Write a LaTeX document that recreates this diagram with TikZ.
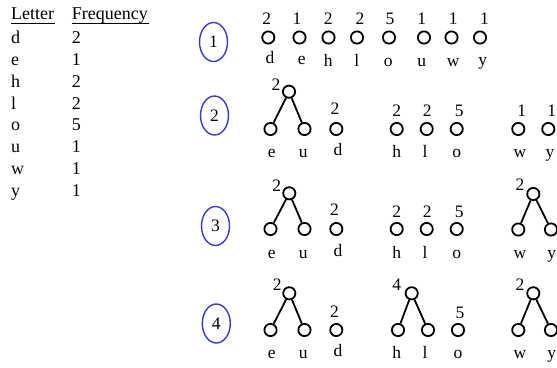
\documentclass[tikz,border=0pt]{standalone}
\usepackage{fontspec}
\setmainfont{Liberation Serif}
\usetikzlibrary{shapes.geometric}
\definecolor{stepblue}{HTML}{3A3AC8}
\begin{document}
\begin{tikzpicture}[x=1pt,y=-1pt,
  leaf/.style={circle, draw, line width=1.8pt, minimum size=12.2pt, inner sep=0pt},
  txt/.style={anchor=base, inner sep=0pt, font=\fontsize{17.5}{17.5}\selectfont},
  tab/.style={anchor=base west, inner sep=0pt, font=\fontsize{18}{18}\selectfont},
  stepmark/.style={ellipse, draw=stepblue, line width=1.4pt, minimum width=28pt,
    minimum height=39pt, inner sep=0pt, font=\fontsize{17.5}{17.5}\selectfont},
  edge/.style={line width=1.8pt}]
\useasboundingbox (0,0) rectangle (557,367);

% frequency table
\node[tab] (hL) at (11,19.5) {Letter};
\node[tab] (hF) at (71.7,19.5) {Frequency};
\draw[line width=0.8pt] (hL.base west) ++(0,3.8) -- ++(44,0);
\draw[line width=0.8pt] (hF.base west) ++(0,3.8) -- ++(77.6,0);
\foreach \c/\f [count=\i from 0] in {d/2,e/1,h/2,l/2,o/5,u/1,w/1,y/1}{
  \node[tab] (tl\c) at (11,43.3+21.9*\i) {\c};
  \node[tab] (tf\c) at (71.7,43.3+21.9*\i) {\f};
}

% step markers
\node[stepmark] (s1) at (213.5,42) {1};
\node[stepmark] (s2) at (214.5,115.5) {2};
\node[stepmark] (s3) at (215.5,226) {3};
\node[stepmark] (s4) at (216.3,323.5) {4};

% step 1: single-node trees
\foreach \c/\x/\wx/\f/\lx/\ly in {d/268.3/266.7/2/270/63,e/299.5/297/1/301.7/64.5,
    h/328.5/328.3/2/328.3/66,l/357/360/2/356.7/66,o/389/390/5/388.3/66,
    u/424/421.7/1/421.7/66,w/451.5/453.3/1/453.3/66,y/480/484.5/1/482.7/65.5}{
  \node[leaf] (a\c) at (\x,37.5) {};
  \node[txt] (aw\c) at (\wx,24.5) {\f};
  \node[txt] (al\c) at (\lx,\ly) {\c};
}

% step 2
\node[leaf] (b1) at (289,91.7) {};
\node[txt] (bw1) at (276,90) {2};
\node[leaf] (be) at (270.5,129) {};
\node[leaf] (bu) at (304.5,129) {};
\draw[edge] (b1) -- (be);
\draw[edge] (b1) -- (bu);
\node[leaf] (bd) at (336.3,129) {};
\node[txt] (bwd) at (335,114.5) {2};
\foreach \c/\x/\wx/\f in {h/396.7/396.7/2,l/426.7/427.3/2,o/456.7/459.3/5,
    w/518.3/521.7/1,y/548.3/551.7/1}{
  \node[leaf] (b\c) at (\x,129) {};
  \node[txt] (bw\c) at (\wx,116) {\f};
}
\foreach \c/\x in {e/271.7,u/303.3,h/396.7,l/425,o/456.7,w/520,y/550}{
  \node[txt] (bl\c) at (\x,157.5) {\c};
}
\node[txt] (bld) at (338,155.5) {d};

% step 3
\node[leaf] (c1) at (289.3,193.3) {};
\node[txt] (cw1) at (276.7,191.5) {2};
\node[leaf] (ce) at (270.5,229) {};
\node[leaf] (cu) at (304.5,229) {};
\draw[edge] (c1) -- (ce);
\draw[edge] (c1) -- (cu);
\node[leaf] (cd) at (336.3,229) {};
\node[txt] (cwd) at (334.5,215.5) {2};
\foreach \c/\x/\wx/\f in {h/396.7/396.7/2,l/426.7/427.3/2,o/456.7/459.3/5}{
  \node[leaf] (c\c) at (\x,229) {};
  \node[txt] (cw\c) at (\wx,217) {\f};
}
\node[leaf] (c2) at (533.3,194) {};
\node[txt] (cw2) at (520,190.5) {2};
\node[leaf] (cw) at (518.3,229.5) {};
\node[leaf] (cy) at (551,229.5) {};
\draw[edge] (c2) -- (cw);
\draw[edge] (c2) -- (cy);
\foreach \c/\x in {e/271.7,u/303.3,h/396.7,l/425,o/456.7,w/520,y/551.7}{
  \node[txt] (cl\c) at (\x,258) {\c};
}
\node[txt] (cld) at (338,256) {d};

% step 4
\node[leaf] (d1) at (289.3,293.3) {};
\node[txt] (dw1) at (277.3,290.5) {2};
\node[leaf] (de) at (270.5,330) {};
\node[leaf] (du) at (304.5,330) {};
\draw[edge] (d1) -- (de);
\draw[edge] (d1) -- (du);
\node[leaf] (dd) at (336.3,330) {};
\node[txt] (dwd) at (334.5,317) {2};
\node[leaf] (d2) at (411.7,293.3) {};
\node[txt] (dw2) at (396.7,290.5) {4};
\node[leaf] (dh) at (398,330) {};
\node[leaf] (dl) at (428,330) {};
\draw[edge] (d2) -- (dh);
\draw[edge] (d2) -- (dl);
\node[leaf] (do) at (458,330) {};
\node[txt] (dwo) at (460,318) {5};
\node[leaf] (d3) at (533.3,293.3) {};
\node[txt] (dw3) at (520,290.5) {2};
\node[leaf] (dw) at (518.3,330) {};
\node[leaf] (dy) at (551,330) {};
\draw[edge] (d3) -- (dw);
\draw[edge] (d3) -- (dy);
\foreach \c/\x in {e/271.7,u/303.3,h/396.7,l/425,o/458,w/520,y/551.7}{
  \node[txt] (dl\c) at (\x,358.5) {\c};
}
\node[txt] (dld) at (338,356.5) {d};
\end{tikzpicture}
\end{document}
